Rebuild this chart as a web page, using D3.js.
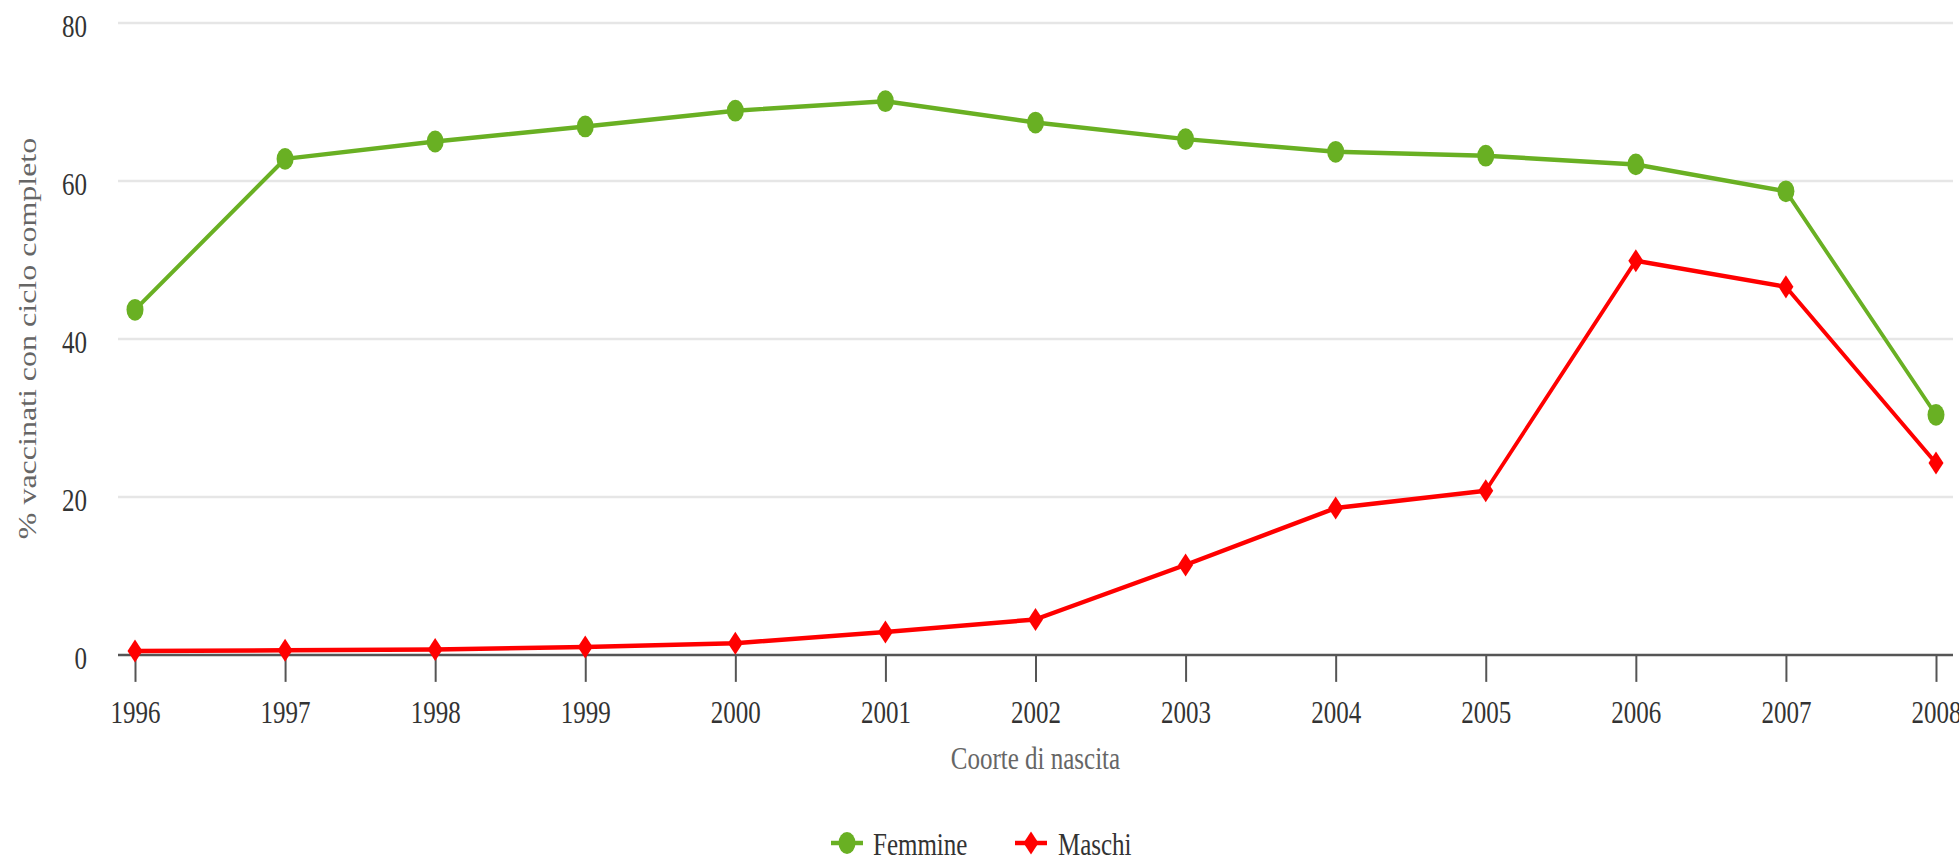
<!DOCTYPE html>
<html>
<head>
<meta charset="utf-8">
<script src="https://cdn.jsdelivr.net/npm/d3@7"></script>
<style>
  html, body { margin: 0; padding: 0; background: #fff; }
  svg { display: block; }
  text { font-family: "Liberation Serif", "Times New Roman", serif; }
</style>
</head>
<body>
<div id="chart"></div>
<script>
// Coorti di nascita e copertura vaccinale (ciclo completo, %)
const years = [1996, 1997, 1998, 1999, 2000, 2001, 2002, 2003, 2004, 2005, 2006, 2007, 2008];
const femmine = [43.7, 62.8, 65.0, 66.9, 68.9, 70.1, 67.4, 65.3, 63.7, 63.2, 62.1, 58.7, 30.4];
const maschi = [0.5, 0.6, 0.7, 1.0, 1.5, 2.9, 4.5, 11.4, 18.6, 20.8, 49.9, 46.6, 24.3];
const yTicks = [0, 20, 40, 60, 80];
const seriesNames = ["Femmine", "Maschi"];

const W = 1959, H = 858;
const S = 1.28;             // vertical stretch of the drawing
const IH = H / S;           // inner drawing height

const green = "#69b023", red = "#ff0000";

const svg = d3.select("#chart").append("svg")
  .attr("width", W).attr("height", H)
  .attr("viewBox", `0 0 ${W} ${IH}`)
  .attr("preserveAspectRatio", "none");

const plotLeft = 118, plotRight = 1953;
const x = d3.scaleLinear().domain([1996, 2008]).range([135, 1936]);
const y = d3.scaleLinear().domain([0, 80]).range([655 / S, 23 / S]);

// grid lines
svg.append("g").selectAll("line").data(yTicks.filter(d => d > 0)).join("line")
  .attr("x1", plotLeft).attr("x2", plotRight)
  .attr("y1", d => y(d)).attr("y2", d => y(d))
  .attr("stroke", "#e6e6e6").attr("stroke-width", 2);

// y tick labels
svg.append("g").selectAll("text").data(yTicks).join("text")
  .attr("x", 87).attr("y", d => y(d) + 11)
  .attr("text-anchor", "end")
  .attr("font-size", 25).attr("fill", "#333")
  .text(d => d);

// x axis
const xAxis = d3.axisBottom(x)
  .tickValues(years)
  .tickFormat(d3.format("d"))
  .tickSize(21)
  .tickSizeOuter(0)
  .tickPadding(14);
const gx = svg.append("g").attr("transform", `translate(0,${y(0)})`).call(xAxis);
gx.select(".domain").remove();
gx.selectAll(".tick line").attr("stroke", "#555").attr("stroke-width", 2);
gx.selectAll(".tick text")
  .attr("font-family", "'Liberation Serif', 'Times New Roman', serif")
  .attr("font-size", 25).attr("fill", "#333")
  .attr("dy", "0.71em");
svg.append("line")
  .attr("x1", plotLeft).attr("x2", plotRight)
  .attr("y1", y(0)).attr("y2", y(0))
  .attr("stroke", "#555").attr("stroke-width", 2);

// axis titles
svg.append("text")
  .attr("x", (plotLeft + plotRight) / 2).attr("y", 769 / S)
  .attr("text-anchor", "middle").attr("font-size", 25).attr("fill", "#666")
  .text("Coorte di nascita");
svg.append("text")
  .attr("transform", `translate(36,${338.5 / S}) rotate(-90)`)
  .attr("text-anchor", "middle").attr("font-size", 25).attr("fill", "#666")
  .text("% vaccinati con ciclo completo");

// series
const line = d3.line().x(d => x(d[0])).y(d => y(d[1]));
const diamond = (cx, cy, rx, ry) => `M${cx},${cy - ry}L${cx + rx},${cy}L${cx},${cy + ry}L${cx - rx},${cy}Z`;

const fData = years.map((yr, i) => [yr, femmine[i]]);
const mData = years.map((yr, i) => [yr, maschi[i]]);

svg.append("path").datum(fData).attr("d", line)
  .attr("fill", "none").attr("stroke", green).attr("stroke-width", 3.5)
  .attr("stroke-linejoin", "round");
svg.append("g").selectAll("circle").data(fData).join("circle")
  .attr("cx", d => x(d[0])).attr("cy", d => y(d[1])).attr("r", 8.5)
  .attr("fill", green);

svg.append("path").datum(mData).attr("d", line)
  .attr("fill", "none").attr("stroke", red).attr("stroke-width", 3.5)
  .attr("stroke-linejoin", "round");
svg.append("g").selectAll("path").data(mData).join("path")
  .attr("d", d => diamond(x(d[0]), y(d[1]), 7.5, 9))
  .attr("fill", red);

// legend
const ly = 843 / S;
const legend = svg.append("g");
legend.append("line").attr("x1", 831).attr("x2", 863).attr("y1", ly).attr("y2", ly)
  .attr("stroke", green).attr("stroke-width", 3.5);
legend.append("circle").attr("cx", 847).attr("cy", ly).attr("r", 8.5).attr("fill", green);
legend.append("text").attr("x", 873).attr("y", 855 / S)
  .attr("font-size", 25).attr("fill", "#333").text(seriesNames[0]);
legend.append("line").attr("x1", 1015).attr("x2", 1047).attr("y1", ly).attr("y2", ly)
  .attr("stroke", red).attr("stroke-width", 3.5);
legend.append("path").attr("d", diamond(1031, ly, 7.5, 9)).attr("fill", red);
legend.append("text").attr("x", 1058).attr("y", 855 / S)
  .attr("font-size", 25).attr("fill", "#333").text(seriesNames[1]);
</script>
</body>
</html>
